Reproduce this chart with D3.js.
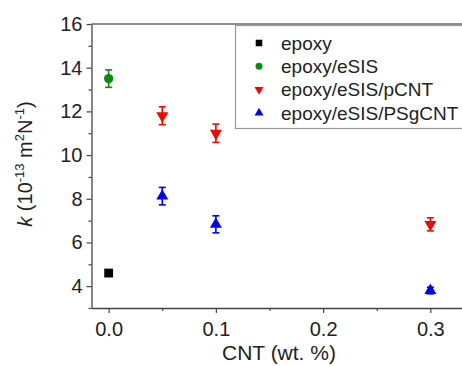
<!DOCTYPE html>
<html>
<head>
<meta charset="utf-8">
<script src="https://cdn.jsdelivr.net/npm/d3@7"></script>
<style>
  body { margin: 0; background: #fff; }
  svg { display: block; font-family: "Liberation Sans", Arial, sans-serif; }
</style>
</head>
<body>
<div id="chart"></div>
<script>
// series data (x = CNT wt.%, k in 10^-13 m2N-1, err = +/-)
const seriesNames = ["epoxy", "epoxy/eSIS", "epoxy/eSIS/pCNT", "epoxy/eSIS/PSgCNT"];
const epoxyX = [0], epoxyK = [4.6], epoxyErr = [0.1];
const esisX = [0], esisK = [13.5], esisErr = [0.4];
const pcntX = [0.05, 0.1, 0.3], pcntK = [11.8, 11.0, 6.83], pcntErr = [0.41, 0.42, 0.3];
const psgX = [0.05, 0.1, 0.3], psgK = [8.12, 6.83, 3.8], psgErr = [0.4, 0.39, 0.15];
const xTicks = [0, 0.1, 0.2, 0.3];
const xMinor = [0.05, 0.15, 0.25];
const yTicks = [4, 6, 8, 10, 12, 14, 16];
const yMinor = [3, 5, 7, 9, 11, 13, 15];

const width = 462, height = 366;
const margin = { left: 91.5, top: 24, bottom: 308 };

const svg = d3.select("#chart").append("svg")
  .attr("width", width).attr("height", height);

const x = d3.scaleLinear().domain([-0.016, 0.33]).range([margin.left, width + 0.5]);
const y = d3.scaleLinear().domain([3, 16]).range([margin.bottom, margin.top]);

// top frame line
svg.append("line")
  .attr("x1", margin.left).attr("x2", width)
  .attr("y1", margin.top).attr("y2", margin.top)
  .attr("stroke", "#666").attr("stroke-width", 1.3);

// axes
const axisColor = "#444";
svg.append("g").attr("transform", "translate(0," + margin.bottom + ")")
  .call(d3.axisBottom(x).tickValues(xTicks).tickFormat(d3.format(".1f"))
    .tickSize(5).tickPadding(9).tickSizeOuter(0));
svg.append("g").attr("transform", "translate(0," + margin.bottom + ")")
  .call(d3.axisBottom(x).tickValues(xMinor).tickFormat("").tickSize(3).tickSizeOuter(0))
  .call(g => g.select(".domain").remove());

svg.append("g").attr("transform", "translate(" + margin.left + ",0)")
  .call(d3.axisLeft(y).tickValues(yTicks).tickSize(5).tickPadding(4).tickSizeOuter(0));
svg.append("g").attr("transform", "translate(" + margin.left + ",0)")
  .call(d3.axisLeft(y).tickValues(yMinor).tickFormat("").tickSize(3).tickSizeOuter(0))
  .call(g => g.select(".domain").remove());

svg.selectAll(".domain").attr("stroke", axisColor).attr("stroke-width", 1.3);
svg.selectAll(".tick line").attr("stroke", axisColor).attr("stroke-width", 1.2);
svg.selectAll(".tick text").attr("fill", "#222").style("font-size", "20px")
  .style("font-family", "'Liberation Sans', Arial, sans-serif");

// axis titles
svg.append("text")
  .attr("x", 279).attr("y", 360)
  .attr("text-anchor", "middle")
  .attr("fill", "#222").style("font-size", "21px")
  .text("CNT (wt. %)");

const yl = svg.append("text")
  .attr("transform", "translate(32," + ((margin.top + margin.bottom) / 2 - 2) + ") rotate(-90)")
  .attr("text-anchor", "middle")
  .attr("fill", "#222").style("font-size", "20px");
yl.append("tspan").style("font-style", "italic").text("k");
yl.append("tspan").text(" (10");
yl.append("tspan").attr("dy", -8).style("font-size", "13px").text("-13");
yl.append("tspan").attr("dy", 8).text(" m");
yl.append("tspan").attr("dy", -8).style("font-size", "13px").text("2");
yl.append("tspan").attr("dy", 8).text("N");
yl.append("tspan").attr("dy", -8).style("font-size", "13px").text("-1");
yl.append("tspan").attr("dy", 8).text(")");

// series definitions
const series = [
  { name: seriesNames[0], xs: epoxyX, ks: epoxyK, errs: epoxyErr, color: "#000000", sym: d3.symbolSquare, rot: 0, size: 78 },
  { name: seriesNames[1], xs: esisX, ks: esisK, errs: esisErr, color: "#0b8a0b", sym: d3.symbolCircle, rot: 0, size: 68 },
  { name: seriesNames[2], xs: pcntX, ks: pcntK, errs: pcntErr, color: "#ff0000", sym: d3.symbolTriangle, rot: 180, size: 62 },
  { name: seriesNames[3], xs: psgX, ks: psgK, errs: psgErr, color: "#0000ff", sym: d3.symbolTriangle, rot: 0, size: 62 }
];

const capW = 3.5;
series.forEach(s => {
  const pts = s.xs.map((v, i) => ({ x: v, k: s.ks[i], e: s.errs[i] }));
  const g = svg.append("g");
  const eb = g.selectAll(".eb").data(pts).enter().append("g")
    .attr("stroke", s.color).attr("stroke-width", 1.6);
  eb.append("line")
    .attr("x1", d => x(d.x)).attr("x2", d => x(d.x))
    .attr("y1", d => y(d.k + d.e)).attr("y2", d => y(d.k - d.e));
  eb.append("line")
    .attr("x1", d => x(d.x) - capW).attr("x2", d => x(d.x) + capW)
    .attr("y1", d => y(d.k + d.e)).attr("y2", d => y(d.k + d.e));
  eb.append("line")
    .attr("x1", d => x(d.x) - capW).attr("x2", d => x(d.x) + capW)
    .attr("y1", d => y(d.k - d.e)).attr("y2", d => y(d.k - d.e));
  g.selectAll(".pt").data(pts).enter().append("path")
    .attr("d", d3.symbol().type(s.sym).size(s.size))
    .attr("transform", d => "translate(" + x(d.x) + "," + y(d.k) + ") rotate(" + s.rot + ")")
    .attr("fill", s.color);
});

// legend
const lg = svg.append("g");
lg.append("rect")
  .attr("x", 235.5).attr("y", 25.5)
  .attr("width", 240).attr("height", 103)
  .attr("fill", "#fff").attr("stroke", "#999").attr("stroke-width", 1.2);
series.forEach((s, i) => {
  const cy = 43 + i * 23.3;
  lg.append("path")
    .attr("d", d3.symbol().type(s.sym).size(s.size * 0.55))
    .attr("transform", "translate(259," + cy + ") rotate(" + s.rot + ")")
    .attr("fill", s.color);
  lg.append("text")
    .attr("x", 281).attr("y", cy).attr("dy", "0.35em")
    .attr("fill", "#222").style("font-size", "19px")
    .text(s.name);
});
</script>
</body>
</html>
